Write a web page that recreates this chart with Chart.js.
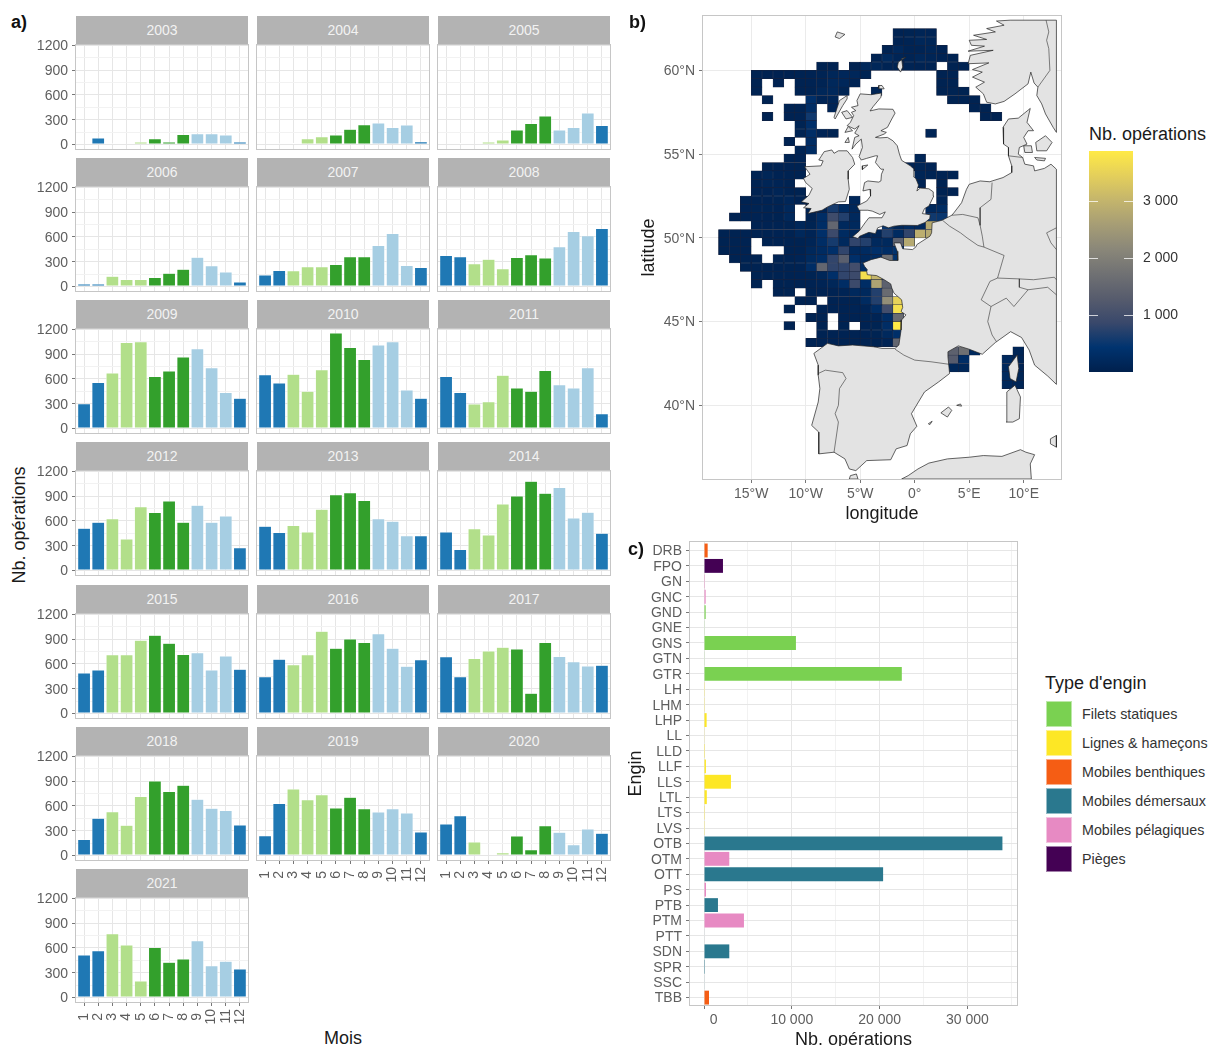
<!DOCTYPE html>
<html>
<head>
<meta charset="utf-8">
<script src="https://cdn.jsdelivr.net/npm/chart.js@4"></script>
<style>
html, body { margin: 0; background: #fff; overflow: hidden; }
body { width: 1208px; height: 1046px; position: relative; font-family: "Liberation Sans", Arial, sans-serif; }
canvas { position: absolute; }
.strip { position: absolute; width: 172px; height: 29px; line-height: 29px; background: #b3b3b3; color: #f2f2f2; font-size: 14px; text-align: center; }
.txt { position: absolute; white-space: nowrap; color: #1a1a1a; font-size: 18px; }
.tag { position: absolute; font-size: 18px; font-weight: bold; color: #111; }
.swatch { position: absolute; left: 1046px; width: 26px; height: 26px; box-sizing: border-box; border: 1px solid rgba(255,255,255,.5); }
.lab { position: absolute; left: 1082px; font-size: 14.3px; line-height: 26px; color: #333; white-space: nowrap; }
</style>
</head>
<body>
<script>
// panel a) operations per month and year
const years = [2003, 2004, 2005, 2006, 2007, 2008, 2009, 2010, 2011, 2012, 2013, 2014, 2015, 2016, 2017, 2018, 2019, 2020, 2021];
const months = [1, 2, 3, 4, 5, 6, 7, 8, 9, 10, 11, 12];
const v2003 = [10, 80, 15, 8, 30, 70, 30, 120, 130, 130, 115, 30];
const v2004 = [10, 15, 20, 70, 95, 115, 185, 240, 260, 205, 235, 35];
const v2005 = [10, 20, 10, 30, 55, 175, 255, 345, 175, 205, 380, 230];
const v2006 = [30, 30, 125, 85, 85, 110, 160, 210, 355, 250, 175, 55];
const v2007 = [140, 195, 190, 240, 240, 265, 360, 360, 495, 640, 255, 230];
const v2008 = [375, 360, 275, 330, 215, 350, 385, 345, 480, 665, 615, 700];
const v2009 = [300, 555, 670, 1040, 1050, 630, 695, 865, 965, 735, 435, 365];
const v2010 = [650, 550, 655, 450, 710, 1155, 980, 835, 1010, 1050, 465, 365];
const v2011 = [630, 435, 295, 325, 645, 490, 450, 700, 530, 490, 735, 180];
const v2012 = [510, 585, 625, 380, 770, 700, 840, 585, 790, 585, 660, 275];
const v2013 = [535, 460, 545, 465, 740, 915, 940, 845, 625, 595, 420, 420];
const v2014 = [465, 255, 505, 430, 805, 900, 1080, 935, 1005, 635, 705, 450];
const v2015 = [490, 525, 710, 710, 885, 945, 850, 715, 735, 525, 695, 535];
const v2016 = [445, 655, 590, 710, 995, 790, 900, 860, 965, 790, 570, 650];
const v2017 = [685, 445, 665, 755, 800, 780, 245, 860, 690, 625, 575, 585];
const v2018 = [195, 450, 530, 365, 715, 900, 775, 850, 680, 570, 545, 370];
const v2019 = [240, 630, 805, 675, 735, 575, 705, 565, 525, 565, 515, 285];
const v2020 = [380, 480, 165, 0, 35, 235, 70, 360, 280, 130, 320, 270];
const v2021 = [515, 565, 770, 635, 200, 605, 425, 465, 685, 385, 440, 345];
const yearValues = [v2003, v2004, v2005, v2006, v2007, v2008, v2009, v2010, v2011, v2012, v2013, v2014, v2015, v2016, v2017, v2018, v2019, v2020, v2021];
const monthColors = ['#1f78b4', '#1f78b4', '#b2df8a', '#b2df8a', '#b2df8a', '#33a02c', '#33a02c', '#33a02c', '#a6cee3', '#a6cee3', '#a6cee3', '#1f78b4'];

// panel c) operations per gear
const gears = ['DRB', 'FPO', 'GN', 'GNC', 'GND', 'GNE', 'GNS', 'GTN', 'GTR', 'LH', 'LHM', 'LHP', 'LL', 'LLD', 'LLF', 'LLS', 'LTL', 'LTS', 'LVS', 'OTB', 'OTM', 'OTT', 'PS', 'PTB', 'PTM', 'PTT', 'SDN', 'SPR', 'SSC', 'TBB'];
const gearValues = [417, 2160, 10, 190, 190, 70, 10470, 70, 22530, 30, 30, 300, 70, 100, 220, 3070, 320, 20, 30, 33990, 2880, 20400, 230, 1590, 4550, 60, 2880, 10, 50, 570];
const gearTypes = [2, 5, 4, 4, 0, 0, 0, 0, 0, 1, 1, 1, 1, 1, 1, 1, 1, 1, 1, 3, 4, 3, 4, 3, 4, 3, 3, 3, 3, 2];
const gearTicks = [0, 5000, 10000, 15000, 20000, 25000, 30000, 35000];
const typeNames = ['Filets statiques', 'Lignes & hameçons', 'Mobiles benthiques', 'Mobiles démersaux', 'Mobiles pélagiques', 'Pièges'];
const typeColors = ['#7ad151', '#fde725', '#f55d14', '#2a788e', '#e78ac3', '#440154'];

// panel b) rectangles: north latitude, west longitude, then values going east
const cellRows = [
  [62.5, -2, [70, 80, 120, 100]],
  [62, -2, [70, 90, 150, 130]],
  [61.5, -3, [60, 180, 90, 90, 130, 70]],
  [61, -4, [60, 220, 120, 90, 150, 120, 70, 60]],
  [60.5, -9, [60, 60, null, 60, 180, 150, 90, 80, 90, 70, 70, null, 60, 60]],
  [60, -15, [60, 50, 50, 50, 60, 70, 90, 150, 170, 170, 80]],
  [60, 2, [60, 60]],
  [59.5, -15, [60, null, 50, null, 60, 70, 90, 180, 170, 100]],
  [59.5, 2, [60, 60]],
  [59, -15, [60, null, null, null, 60, 60, 150, 180, 80]],
  [59, -4, [120]],
  [59, 2, [60, 80, 60]],
  [58.5, -14, [60]],
  [58.5, -10, [350, 100, 120]],
  [58.5, 3, [60, 70, 60]],
  [58, -12, [60, 60, 300]],
  [58, -8, [100]],
  [58, 5, [60, 60]],
  [57.5, -14, [60, null, 60, 70, 550]],
  [57.5, 6, [60, 60]],
  [57, -11, [80, 350]],
  [56.5, -11, [80, 300, 100, 60]],
  [56.5, 1, [120]],
  [56, -12, [60, null, 280]],
  [55.5, -11, [90, 280]],
  [55, -12, [60, 70]],
  [55, 0, [130]],
  [54.5, -14, [60, 70, 70, 60]],
  [54.5, -1, [90, 130, 100]],
  [54, -15, [70, 130, 70, 60, 60]],
  [54, 0, [110, 90, 70, 60]],
  [53.5, -15, [60, 110, 100, 60]],
  [53.5, 0, [100, null, 60]],
  [53, -15, [60, 70, 120, 60, 60]],
  [53, 2, [60, 60]],
  [52.5, -16, [60, 60, 70, 80, 140, 70, 60]],
  [52.5, -6, [150]],
  [52.5, 2, [120]],
  [52, -16, [70, 80, 80, 70, 180, null, 60, 100, 600, 250, 150]],
  [52, 1, [200, 280]],
  [51.5, -17, [60, 60, 70, 70, 60, 180, null, 60, 300, 950, 700, 200]],
  [51.5, 1, [550, 500]],
  [51, -15, [70, 70, 70, 60, 150, 80, 300, 1500, 200, 200]],
  [51, -3, [500, 150, 250, 200, 2800]],
  [50.5, -18, [60, 60, 60, 60, 60, 70, 60, 180, 100, 350, 900, 250, 150, 120, 120, 700, 250, 800, 2900, 2800]],
  [50, -18, [60, 60, 60, null, 60, 60, 60, 60, 120, 300, 600, 200, 800, 700, 200, 200, 1400, 2800]],
  [49.5, -18, [60, 60, 60, null, null, null, 60, 60, 180, 250, 350, 800, 200, 250, 350, 300, 400]],
  [49, -17, [60, 60, 60, null, 60, 60, 100, 220, 300, 800, 1350, 350, 200, 250, 1700, 400]],
  [48.5, -16, [60, 60, 60, 60, 60, 70, 300, 1500, 800, 800, 1000, 300]],
  [48, -15, [60, 60, 60, 60, 70, 80, 150, 350, 800, 900, 3700, 3000, 1600]],
  [47.5, -15, [60, null, 60, 60, 60, 70, 100, 150, 300, 900, 300, 2700, 1400]],
  [47, -13, [60, 60, null, 60, 70, 70, 100, 200, 200, 700, 1600]],
  [46.5, -11, [60, 60, null, 70, 70, 80, 250, 700, 2300, 3500]],
  [46, -12, [60, null, null, 70, 70, 70, 100, 100, 300, 1000, 3700]],
  [45.5, -10, [60, 60, null, 70, 70, 80, 100, 300, 1600]],
  [45, -12, [60, null, null, 60, null, 60, null, 70, 80, 300, 3883]],
  [44.5, -9, [70, 70, 70, 70, 70, 80, 200, 350]],
  [44, -10, [70, 70, 70, 60, 60, 60, 60, 100, 1500]],
  [43.5, 3, [1400, 1700, 200]],
  [43, 3, [1300, 300]],
  [42.5, 3, [150, 150]],
  [43.5, 9, [120]],
  [43, 8, [200, 120]],
  [42.5, 8, [200, 100]],
  [42, 8, [220, 120]],
  [41.5, 8, [160, 120]]
];
const cividis = ['#00204d', '#00336f', '#39486b', '#575c6d', '#707173', '#8a8779', '#a69d75', '#c4b56c', '#e4cf5b', '#ffea46'];
const maxOps = 3883;
const barTicks = [1000, 2000, 3000];

// land, as lon/lat rings
const britain = [[-5.7,50.07],[-5.2,49.96],[-5.05,50.1],[-4.2,50.33],[-3.6,50.25],[-3.4,50.6],[-2.9,50.72],[-2.4,50.6],[-1.9,50.7],[-1.2,50.75],[-0.8,50.75],[0.25,50.74],[0.95,50.92],[1.38,51.15],[1.42,51.38],[0.7,51.45],[0.9,51.75],[1.3,51.9],[1.75,52.5],[1.7,52.75],[1.3,52.93],[0.5,52.97],[0.2,52.8],[0.35,53.15],[0.1,53.55],[-0.1,53.65],[-0.08,54.12],[-0.4,54.3],[-1.2,54.63],[-1.4,55],[-1.6,55.5],[-2,55.8],[-2.5,56],[-3.2,55.97],[-3.6,56],[-2.8,56.2],[-2.6,56.3],[-3.1,56.4],[-2.5,56.6],[-2.1,57.1],[-1.8,57.45],[-2,57.68],[-3.3,57.7],[-4.1,57.58],[-3.8,57.85],[-3.1,58.4],[-3.05,58.65],[-4,58.55],[-5,58.6],[-5.3,58.2],[-5.2,57.9],[-5.8,57.8],[-5.4,57.6],[-5.8,57.5],[-5.6,57.3],[-5.9,56.9],[-6.2,56.7],[-5.5,56.5],[-5.1,56.7],[-5.5,56.25],[-5.1,56.1],[-5.5,56],[-5.75,55.3],[-5.4,55.6],[-4.9,55.9],[-4.8,55.4],[-5.1,54.85],[-4.9,54.65],[-4.4,54.75],[-3.6,54.9],[-3.4,54.9],[-3.6,54.5],[-3.1,54.1],[-2.85,54.1],[-3.05,53.8],[-3.1,53.4],[-3.3,53.33],[-4.3,53.4],[-4.6,53.3],[-4.75,52.8],[-4.1,52.9],[-4.05,52.5],[-4.4,52.2],[-5.3,51.9],[-5.1,51.65],[-4.3,51.65],[-3.9,51.6],[-3.2,51.4],[-2.7,51.55],[-3,51.2],[-4.2,51.2],[-4.5,50.95],[-5.1,50.4],[-5.7,50.07]];
const ireland = [[-6.35,52.17],[-7,52.15],[-8,51.85],[-8.5,51.65],[-9.8,51.45],[-9.5,51.75],[-10.2,51.8],[-9.7,52.05],[-10.4,52.15],[-9.7,52.55],[-9.4,52.95],[-10,53.3],[-10.2,53.55],[-9.6,53.8],[-10.1,54.25],[-8.6,54.3],[-8.4,54.6],[-8.8,54.65],[-8.3,55.15],[-7.6,55.25],[-7.4,55.05],[-7,55.2],[-6.2,55.2],[-5.7,54.8],[-5.5,54.4],[-6.1,54],[-6.1,53.5],[-6,52.9],[-6.35,52.17]];
const continent = [[13,54.1],[12.5,54.4],[11.9,54.15],[11,54],[10.9,54.3],[10.1,54.4],[9.9,54.8],[9.5,55],[9.6,55.4],[10.3,55.6],[10,56],[10.4,56.4],[10.9,56.4],[10.3,56.9],[10.6,57.73],[9.5,57.15],[8.6,57.1],[8.1,56.6],[8.15,55.6],[8.6,55.4],[8.6,54.9],[8.9,54.3],[8.9,53.9],[8.1,53.6],[7.1,53.4],[6.9,53.35],[6,53.4],[5,53.2],[4.75,52.9],[4.3,52.1],[3.6,51.5],[3.4,51.35],[2.5,51.05],[1.6,50.9],[1.55,50.3],[1.4,50.1],[0.2,49.6],[0.1,49.45],[-0.2,49.3],[-1.1,49.35],[-1.3,49.7],[-1.9,49.7],[-1.6,49.2],[-1.55,48.65],[-2.3,48.65],[-3.1,48.85],[-4,48.7],[-4.75,48.5],[-4.6,48.3],[-4.35,48.1],[-4.4,48],[-4.35,47.8],[-3.5,47.75],[-2.8,47.5],[-2.2,47.25],[-2.1,47],[-1.9,46.7],[-1.2,46.3],[-1.1,45.85],[-1.25,45.6],[-0.8,45.4],[-1.2,45.1],[-1.25,44.5],[-1.45,43.6],[-1.8,43.4],[-3,43.4],[-3.8,43.5],[-5.7,43.6],[-7,43.55],[-8,43.7],[-9.25,43.1],[-8.85,42.4],[-8.85,41.8],[-8.7,41],[-8.85,40.2],[-9.45,38.8],[-8.8,38.4],[-8.8,37.1],[-7.4,37.2],[-6.4,36.8],[-6,36.2],[-5.4,36.1],[-4.4,36.7],[-2.2,36.75],[-1.7,37.4],[-0.7,37.6],[-0.4,38.3],[0.2,38.75],[-0.3,39.5],[0.9,40.8],[2.2,41.4],[3.2,41.9],[3.05,42.9],[3.05,43.2],[4,43.55],[5,43.35],[6.2,43.05],[7.4,43.75],[8.8,44.4],[9.8,44.05],[10.5,43.3],[11,42.4],[12.2,41.75],[13,41.25],[13,54.1]];
const norway = [[13,63],[8.75,63],[7.5,62.95],[8.2,62.7],[6.6,62.5],[7.4,62.3],[5.4,62.1],[6.6,61.85],[5,61.8],[5.2,61.5],[6.4,61.45],[4.9,61.15],[7.2,61.2],[5.1,60.9],[4.9,60.4],[6.8,60.45],[5.3,60.05],[6.2,59.9],[5.3,59.6],[6.4,59.3],[5.6,59],[6.3,58.6],[6.6,58.1],[7.4,58],[8.2,58.15],[9.2,58.6],[10.4,59.2],[10.65,59.9],[10.95,59.25],[11.3,59],[11.2,58.5],[11.65,58],[12,57.4],[12.7,56.6],[13,56.3],[13,63]];
const africa = [[-1.2,35.6],[-0.6,35.8],[0.3,36.2],[1.3,36.55],[3,36.8],[5,36.9],[6.3,37],[8,36.95],[9.7,37.35],[10.2,37.2],[11,37.05],[10.6,36.5],[10.7,35.6],[-1.2,35.6]];
const morocco = [[-6,35.6],[-5.9,35.8],[-5.35,35.9],[-5.2,35.6],[-6,35.6]];
const corsica = [[9.4,43],[9.55,42.2],[9.3,41.4],[8.75,41.6],[8.6,42.3],[9.4,43]];
const sardinia = [[9.2,41.2],[9.7,40.5],[9.6,39.2],[9,39],[8.4,39],[8.45,40.8],[9.2,41.2]];
const sicily = [[12.45,38],[13,38.2],[13,37.5],[12.45,37.7],[12.45,38]];
const mallorca = [[2.4,39.55],[3.1,39.9],[3.4,39.7],[3,39.3],[2.4,39.55]];
const menorca = [[3.85,40],[4.3,39.95],[4.2,40.08],[3.85,40]];
const ibiza = [[1.25,38.9],[1.6,39.05],[1.4,38.85],[1.25,38.9]];
const shetland = [[-1.3,59.9],[-1.1,60.2],[-1.2,60.7],[-0.8,60.8],[-1.5,60.5],[-1.6,60.2],[-1.3,59.9]];
const orkney = [[-3.3,58.9],[-2.8,58.9],[-3,59.1],[-3.3,59.1],[-3.3,58.9]];
const faroe = [[-7.1,62.3],[-6.4,62.15],[-6.9,61.9],[-7.3,62],[-7.1,62.3]];
const lewis = [[-6.2,58.5],[-6.9,58.2],[-7.1,57.8],[-7.4,57.2],[-7.3,57.1],[-6.6,57.9],[-6.2,58.3],[-6.2,58.5]];
const skye = [[-6.7,57.5],[-6.2,57.6],[-5.7,57.2],[-6.3,57.1],[-6.7,57.5]];
const mull = [[-6.4,56.3],[-5.7,56.4],[-6.1,56.65],[-6.4,56.3]];
const islay = [[-6.4,55.7],[-6,55.7],[-6.1,56],[-6.4,55.7]];
const man = [[-4.8,54.08],[-4.3,54.35],[-4.8,54.3],[-4.8,54.08]];
const zealand = [[11.1,55.7],[12,56.1],[12.6,55.7],[12.1,55.2],[11.2,55.2],[11.1,55.7]];
const funen = [[10,55.5],[10.7,55.5],[10.8,55.1],[10.1,55.1],[10,55.5]];
const lolland = [[11,54.8],[12,54.75],[11.9,54.6],[11.2,54.65],[11,54.8]];
const landRings = [britain, ireland, continent, norway, africa, morocco, corsica, sardinia, sicily, mallorca, menorca, ibiza, shetland, orkney, faroe, lewis, skye, mull, islay, man, zealand, funen, lolland];

// inland borders
const frSpain = [[-1.8,43.35],[-1,43],[0,42.7],[1.5,42.6],[3.15,42.45]];
const spPortugal = [[-8.85,41.9],[-8.2,42.1],[-6.6,41.95],[-6.3,41.6],[-6.9,41],[-7,40],[-7.3,39.5],[-7,39],[-7.4,37.2]];
const frBelgium = [[2.55,51.05],[3.2,50.7],[4.2,50.3],[4.8,50],[5.8,49.55],[6.35,49.45],[8.2,48.95]];
const frGermany = [[8.2,48.95],[7.6,47.6],[6.9,47.4],[6.1,46.3],[7,45.9],[6.7,45],[7.1,44.2],[7.5,43.8]];
const beNether = [[3.4,51.35],[4.4,51.4],[5.8,51.2],[6,50.75]];
const geNether = [[7.1,53.3],[7,52.3],[6,51.8],[6,50.75],[6.2,50.1],[6.35,49.45]];
const geDenmark = [[8.6,54.9],[9.9,54.8]];
const swissNorth = [[7.6,47.6],[9.6,47.55],[9.6,47.05],[10.4,46.9],[12.2,47.05],[13,46.6]];
const swissItaly = [[7,45.9],[8.4,46.4],[9.1,45.9],[10.4,46.9]];
const geAustria = [[9.6,47.55],[10.9,47.5],[12.8,47.65],[13,47.5]];
const geCzech = [[13,50.6],[12.1,50.3],[12.5,49.7],[13,49.3]];
const noSweden = [[11.3,59],[12.4,60],[12.3,61.3],[12.1,61.8],[12.3,62.3],[12.05,63]];
const borderLines = [frSpain, spPortugal, frBelgium, frGermany, beNether, geNether, geDenmark, swissNorth, swissItaly, geAustria, geCzech, noSweden];

Chart.defaults.font.family = '"Liberation Sans", Arial, sans-serif';
Chart.defaults.font.size = 14;
Chart.defaults.animation = false;

const tickGrey = '#5e5e5e';
const major = '#e6e6e6';
const minor = '#f2f2f2';

const panelBox = {
  id: 'panelBox',
  afterDraw(chart) {
    const a = chart.chartArea, c = chart.ctx;
    c.save();
    c.strokeStyle = '#c6c6c6';
    c.lineWidth = 1;
    c.strokeRect(Math.round(a.left) - 0.5, Math.round(a.top) - 0.5, Math.round(a.width) + 1, Math.round(a.height) + 1);
    c.restore();
  }
};

// fixes an axis box so the plot areas land where they should
function fixBox(s, size) {
  if (s.isHorizontal()) s.height = size;
  else s.width = size;
  s.paddingLeft = s.paddingRight = s.paddingTop = s.paddingBottom = 0;
}

function addCanvas(left, top, w, h) {
  const cv = document.createElement('canvas');
  cv.width = w;
  cv.height = h;
  cv.style.left = left + 'px';
  cv.style.top = top + 'px';
  document.body.appendChild(cv);
  return cv;
}

function addText(cls, str, css) {
  const d = document.createElement('div');
  d.className = cls;
  d.textContent = str;
  Object.assign(d.style, css);
  document.body.appendChild(d);
}

function spaced(v) {
  return String(v).replace(/\B(?=(\d{3})+$)/g, ' ');
}

function cellColor(value) {
  const t = Math.min(value / maxOps, 1) * (cividis.length - 1);
  const i = Math.min(Math.floor(t), cividis.length - 2);
  const f = t - i;
  const rgb = s => [1, 3, 5].map(k => parseInt(s.substr(k, 2), 16));
  const a = rgb(cividis[i]), b = rgb(cividis[i + 1]);
  return 'rgb(' + a.map((x, k) => Math.round(x + (b[k] - x) * f)).join(',') + ')';
}

// facets
const colLeft = [76, 257, 438];
const stripTop = [16, 158, 300, 442, 585, 727, 869];
const labelled = [2019, 2020, 2021];

years.forEach((year, n) => {
  const col = n % 3, row = Math.floor(n / 3);
  const showX = labelled.includes(year);
  addText('strip', year, { left: colLeft[col] + 'px', top: stripTop[row] + 'px' });
  const cv = addCanvas(colLeft[col] - 45, stripTop[row] + 16, 219, 152);
  new Chart(cv, {
    type: 'bar',
    data: {
      labels: months,
      datasets: [{
        data: yearValues[n],
        backgroundColor: monthColors,
        borderColor: '#ffffff',
        borderWidth: 0.5,
        borderSkipped: false,
        categoryPercentage: 0.9,
        barPercentage: 1
      }]
    },
    plugins: [panelBox],
    options: {
      responsive: false,
      devicePixelRatio: 1,
      layout: { padding: { top: 13, right: 2 } },
      plugins: { legend: { display: false }, tooltip: { enabled: false } },
      scales: {
        x: {
          type: 'linear',
          offset: false,
          min: 0.43,
          max: 12.57,
          afterFit: s => fixBox(s, 35),
          border: { display: false },
          grid: { offset: false, color: major, drawTicks: showX, tickLength: 4, tickColor: '#777' },
          ticks: {
            display: showX,
            stepSize: 1,
            autoSkip: false,
            includeBounds: false,
            minRotation: 90,
            maxRotation: 90,
            padding: 3,
            color: tickGrey,
            callback: v => (v < 10 ? v + ' ' : '' + v)
          }
        },
        y: {
          min: -54,
          max: 1203,
          afterFit: s => fixBox(s, 45),
          border: { display: false },
          grid: {
            color: c => (c.tick.value % 300 === 0 ? major : minor),
            drawTicks: col === 0,
            tickLength: 4,
            tickColor: c => (c.tick.value % 300 === 0 ? '#777' : 'transparent')
          },
          ticks: {
            display: col === 0,
            stepSize: 150,
            autoSkip: false,
            includeBounds: false,
            padding: 4,
            labelOffset: 1,
            color: tickGrey,
            callback: v => (v % 300 === 0 ? v : '')
          }
        }
      }
    }
  });
});

// map
const cellData = [];
cellRows.forEach(r => {
  r[2].forEach((val, i) => {
    if (val !== null) cellData.push({ x: r[1] + i + 0.5, y: [r[0] - 0.5, r[0]], ops: val });
  });
});
const mapSets = [{
  type: 'bar',
  order: 2,
  data: cellData,
  grouped: false,
  barThickness: 10.9,
  inflateAmount: 0.3,
  borderSkipped: false,
  borderWidth: 0.5,
  borderColor: 'rgb(25,35,60)',
  backgroundColor: c => (c.raw ? cellColor(c.raw.ops) : '#000')
}];
landRings.forEach(r => mapSets.push({
  type: 'line',
  order: 1,
  data: r.map(p => ({ x: p[0], y: p[1] })),
  fill: 'shape',
  backgroundColor: '#e3e3e3',
  borderColor: '#222',
  borderWidth: 0.7,
  pointRadius: 0,
  tension: 0
}));
borderLines.forEach(r => mapSets.push({
  type: 'line',
  order: 0,
  data: r.map(p => ({ x: p[0], y: p[1] })),
  fill: false,
  borderColor: '#333',
  borderWidth: 0.6,
  pointRadius: 0,
  tension: 0
}));

new Chart(addCanvas(634, 12, 436, 515), {
  type: 'bar',
  data: { datasets: mapSets },
  plugins: [panelBox],
  options: {
    responsive: false,
    devicePixelRatio: 1,
    layout: { padding: { top: 4, right: 9 } },
    plugins: { legend: { display: false }, tooltip: { enabled: false } },
    scales: {
      x: {
        type: 'linear',
        offset: false,
        min: -19.42,
        max: 13.42,
        afterFit: s => fixBox(s, 48),
        border: { display: false },
        grid: { offset: false, color: '#ebebeb', tickLength: 4, tickColor: '#777' },
        title: { display: true, text: 'longitude', color: '#1a1a1a', font: { size: 18 }, padding: { top: 0, bottom: 2 } },
        ticks: {
          stepSize: 5,
          autoSkip: false,
          includeBounds: false,
          maxRotation: 0,
          padding: 3,
          color: tickGrey,
          callback: v => (v < 0 ? -v + '°W' : v > 0 ? v + '°E' : '0°')
        }
      },
      y: {
        min: 35.6,
        max: 63.25,
        afterFit: s => fixBox(s, 69),
        border: { display: false },
        grid: { color: '#ebebeb', tickLength: 4, tickColor: '#777' },
        title: { display: true, text: 'latitude', color: '#1a1a1a', font: { size: 18 }, padding: { top: 4, bottom: 0 } },
        ticks: {
          stepSize: 5,
          autoSkip: false,
          includeBounds: false,
          padding: 4,
          labelOffset: 1,
          color: tickGrey,
          callback: v => v + '°N'
        }
      }
    }
  }
});

// colour bar
addText('txt', 'Nb. opérations', { left: '1089px', top: '124px' });
new Chart(addCanvas(1089, 150, 115, 223), {
  type: 'bar',
  data: {
    labels: [''],
    datasets: [{
      data: [[0, maxOps]],
      categoryPercentage: 1,
      barPercentage: 1,
      backgroundColor: c => {
        const a = c.chart.chartArea;
        if (!a) return cividis[0];
        const g = c.chart.ctx.createLinearGradient(0, a.bottom, 0, a.top);
        cividis.forEach((col, i) => g.addColorStop(i / (cividis.length - 1), col));
        return g;
      }
    }]
  },
  options: {
    responsive: false,
    devicePixelRatio: 1,
    layout: { padding: { top: 1, bottom: 1 } },
    plugins: { legend: { display: false }, tooltip: { enabled: false } },
    scales: {
      x: { display: false },
      y: {
        position: 'right',
        min: 0,
        max: maxOps,
        afterBuildTicks: s => { s.ticks = barTicks.map(v => ({ value: v })); },
        afterFit: s => fixBox(s, 71),
        border: { display: false, dash: [9, 26] },
        grid: { z: 1, drawTicks: false, color: 'rgba(255,255,255,.75)' },
        ticks: { padding: 10, color: '#333', callback: v => spaced(v) }
      }
    }
  }
});

// gear bars
new Chart(addCanvas(620, 536, 405, 517), {
  type: 'bar',
  data: {
    labels: gears.map((g, i) => i),
    datasets: [{
      data: gearValues,
      backgroundColor: gearTypes.map(t => typeColors[t]),
      borderWidth: 0,
      categoryPercentage: 0.9,
      barPercentage: 1
    }]
  },
  plugins: [panelBox],
  options: {
    indexAxis: 'y',
    responsive: false,
    devicePixelRatio: 1,
    layout: { padding: { top: 6, right: 8 } },
    plugins: { legend: { display: false }, tooltip: { enabled: false } },
    scales: {
      x: {
        min: -1595,
        max: 35650,
        afterBuildTicks: s => { s.ticks = gearTicks.map(v => ({ value: v })); },
        afterFit: s => fixBox(s, 48),
        border: { display: false },
        grid: {
          color: c => (c.tick.value % 10000 === 0 ? major : minor),
          tickLength: 4,
          tickColor: c => (c.tick.value % 10000 === 0 ? '#777' : 'transparent')
        },
        title: { display: true, text: 'Nb. opérations', color: '#1a1a1a', font: { size: 18 }, padding: { top: 0, bottom: 2 } },
        ticks: {
          autoSkip: false,
          maxRotation: 0,
          padding: 3,
          color: tickGrey,
          callback: v => (v === 0 ? '     0' : v % 10000 === 0 ? spaced(v) : '')
        }
      },
      y: {
        type: 'linear',
        offset: false,
        reverse: true,
        min: -0.55,
        max: 29.48,
        afterFit: s => fixBox(s, 70),
        border: { display: false },
        grid: { offset: false, color: major, tickLength: 4, tickColor: '#777' },
        title: { display: true, text: 'Engin', color: '#1a1a1a', font: { size: 18 }, padding: { top: 5, bottom: 0 } },
        ticks: {
          stepSize: 1,
          autoSkip: false,
          includeBounds: false,
          padding: 4,
          labelOffset: 1,
          color: tickGrey,
          callback: v => gears[v]
        }
      }
    }
  }
});

// gear legend and shared text
addText('txt', "Type d'engin", { left: '1045px', top: '673px' });
typeNames.forEach((name, i) => {
  const top = 701 + 29 * i;
  const sw = document.createElement('div');
  sw.className = 'swatch';
  sw.style.top = top + 'px';
  sw.style.background = typeColors[i];
  document.body.appendChild(sw);
  addText('lab', name, { top: top + 'px' });
});
addText('txt', 'Mois', { left: '324px', top: '1028px' });
addText('txt', 'Nb. opérations', { left: '-40px', top: '514px', transform: 'rotate(-90deg)', width: '118px' });
addText('tag', 'a)', { left: '11px', top: '12px' });
addText('tag', 'b)', { left: '629px', top: '12px' });
addText('tag', 'c)', { left: '628px', top: '539px' });
</script>
</body>
</html>
